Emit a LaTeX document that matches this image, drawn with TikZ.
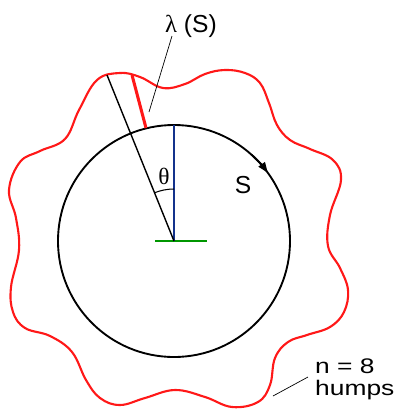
\documentclass[tikz,border=0pt]{standalone}
\usepackage{fontspec}
\setmainfont{Liberation Sans}
\newfontfamily\greekfont{Liberation Serif}
\newfontfamily\widefont[FakeStretch=1.25]{Liberation Sans}
\usetikzlibrary{arrows.meta}
\definecolor{HumpRed}{RGB}{255,24,24}
\definecolor{AxisBlue}{RGB}{20,50,140}
\definecolor{BaseGreen}{RGB}{0,150,0}
\tikzset{
  hump/.style={HumpRed,line width=1.8pt,line join=round},
  ring/.style={black,line width=1.6pt},
  radial/.style={black,line width=1.2pt},
  leader/.style={black,line width=.6pt},
  lbl/.style={inner sep=0pt},
}

\begin{document}
\begin{tikzpicture}[x=.03cm,y=-.03cm]
\path[use as bounding box] (0,0) rectangle (396,410);
\coordinate (c) at (174,241);
\coordinate (top) at (174,125);
\coordinate (tip) at (107,75);
\coordinate (lamin) at (146,128);
\coordinate (lamout) at (132,75);
% wavy boundary, n = 8
\draw[hump] plot[smooth cycle,tension=.65] coordinates {
  (120,73) (140,77) (163,88) (185,84) (205,74) (225,70) (245,73) (260,83)
  (269,103) (277,125) (290,140) (310,149) (333,160) (341,180)
  (330,215) (328,246) (340,268) (348,290) (344,312) (330,327)
  (307,335) (288,342) (275,358) (270,385) (258,402) (232,407) (205,397)
  (175,390) (145,398) (120,405) (100,398) (86,380) (72,352)
  (50,336) (25,328) (13,312) (11,287) (19,250) (16,218)
  (9,190) (20,162) (40,151) (65,139) (79,110) (97,80)};
\draw[ring] (c) circle[radius=116];
\draw[ring,-{Triangle[length=9pt,width=6.5pt]}] (c) ++(-48:116) arc[start angle=-48,end angle=-36,radius=116];
\draw[BaseGreen,line width=1.2pt] (155,241) -- (207,241);
\draw[AxisBlue,line width=1.2pt] (c) -- (top);
\draw[radial] (c) -- (tip);
\draw[radial,line width=.9pt] (174,189) arc[start angle=-90,end angle=-112,radius=52];
\draw[HumpRed,line width=2.6pt] (lamin) -- (lamout);
% labels
\node[lbl,anchor=base] (lam) at (191,32) {\fontsize{21}{21}\selectfont{\greekfont λ} (S)};
\coordinate (lamtop) at (172,36);
\coordinate (lambot) at (149,112);
\draw[leader] (lamtop) -- (lambot);
\node[lbl] (theta) at (164,176) {\fontsize{20}{20}\selectfont\greekfont θ};
\node[lbl,anchor=base] (arcS) at (243,193) {\fontsize{21}{21}\selectfont S};
\node[lbl,anchor=base west,align=left,font=\widefont\fontsize{18}{18}\selectfont] (humps) at (315,395) {n = 8\\humps};
\coordinate (humpa) at (273,396);
\coordinate (humpb) at (308,377);
\draw[leader] (humpa) -- (humpb);
\end{tikzpicture}
\end{document}
